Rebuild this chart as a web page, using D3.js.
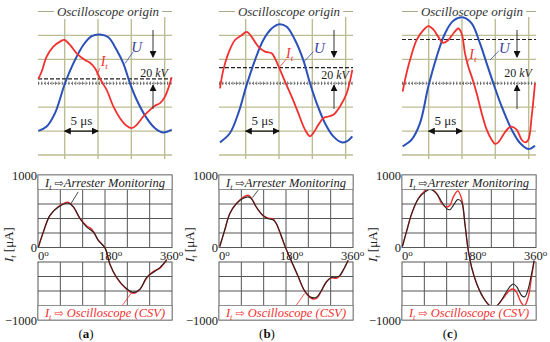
<!DOCTYPE html>
<html>
<head>
<meta charset="utf-8">
<script src="https://cdn.jsdelivr.net/npm/d3@7"></script>
<style>
body { margin: 0; background: #fff; }
svg { display: block; font-family: "Liberation Serif", "DejaVu Serif", serif; }
</style>
</head>
<body>
<svg id="chart" width="550" height="342"></svg>
<script>
'use strict';

const panelNames = ['a', 'b', 'c'];

// oscilloscope screenshots: [time µs, trace in divisions]
const scopeUA = [[1.05,-1.99],[2.3,-1.81],[3.55,-1.25],[5.05,0],[6.3,0.83],[7.8,1.6],[9.05,1.97],[10.3,2.04],[11.55,1.92],[12.8,1.39],[13.8,0.83],[14.8,0],[15.8,-0.69],[17.3,-1.46],[18.55,-1.88],[19.8,-2.06],[21.05,-1.94]];
const scopeIA = [[1.05,0.18],[1.55,0.49],[2.3,1.11],[3.3,1.53],[4.3,1.74],[4.95,1.81],[5.8,1.6],[6.8,1.25],[8.05,0.97],[8.8,0.86],[9.55,0.63],[10.05,0.35],[10.55,0.07],[11.3,-0.28],[12.3,-0.97],[13.3,-1.46],[14.3,-1.78],[15.05,-1.88],[15.8,-1.74],[16.8,-1.39],[17.8,-1.11],[18.55,-0.94],[19.3,-0.83],[20.05,-0.56],[21.05,0.25]];
const scopeUB = [[1.15,-2.47],[2.65,-2.08],[3.9,-1.25],[5.15,-0.07],[6.4,0.97],[7.65,1.81],[8.9,2.29],[10.05,2.47],[11.15,2.36],[12.4,1.81],[13.65,0.97],[14.65,0],[15.65,-0.83],[16.9,-1.67],[18.15,-2.22],[19.4,-2.47],[20.15,-2.43],[21.0,-2.22]];
const scopeIB = [[1.15,-0.21],[1.65,0.56],[2.4,1.25],[3.4,1.81],[4.4,2.01],[5.15,2.15],[5.9,1.94],[6.9,1.53],[7.9,1.32],[8.9,1.25],[9.4,1.04],[10.05,0.63],[10.9,0.07],[11.9,-0.56],[12.9,-1.25],[13.9,-1.94],[14.65,-2.22],[15.15,-2.08],[15.9,-1.74],[16.65,-1.46],[17.4,-1.39],[18.15,-1.32],[19.15,-0.97],[20.15,-0.42],[21.0,0.56]];
const scopeUC = [[1.1,-2.64],[2.45,-2.36],[3.7,-1.67],[4.95,-0.14],[6.2,1.11],[7.45,2.08],[8.7,2.61],[10.2,2.75],[11.45,2.5],[12.7,1.67],[13.7,0.83],[14.7,0],[15.95,-0.97],[17.45,-1.94],[18.7,-2.5],[19.95,-2.75],[20.95,-2.61]];
const scopeIC = [[1.1,-0.35],[1.45,0.14],[2.2,0.97],[3.2,1.81],[4.2,2.22],[4.95,2.39],[5.7,2.25],[6.45,1.94],[7.2,1.69],[7.95,1.81],[8.7,2.08],[9.45,2.29],[9.95,2.08],[10.45,1.25],[10.95,0.69],[11.45,0.28],[12.2,-0.42],[12.95,-1.25],[13.7,-1.94],[14.45,-2.36],[14.95,-2.53],[15.45,-2.47],[16.2,-2.15],[16.95,-1.88],[17.45,-1.81],[18.2,-1.94],[18.95,-2.36],[19.45,-2.47],[19.95,-2.36],[20.45,-1.39],[20.95,0]];
const dashLevels = [0.18, 0.65, 1.83];   // dashed reference line, divisions
const timeGrid = [5, 10, 15, 20];
const divGrid = [-3, -2, -1, 1, 2];

// leakage current over one period: [phase deg, µA]
const monitorA = [[1,5],[14,212],[32,443],[55,559],[81,614],[95,559],[113,397],[131,282],[149,212],[162,97],[180,-5],[193,-226],[211,-411],[234,-550],[256,-619],[274,-573],[292,-411],[310,-342],[328,-273],[346,-171]];
const csvA = [[1,5],[14,205],[32,440],[55,565],[81,625],[95,560],[113,400],[131,295],[140,270],[149,220],[162,100],[180,-5],[193,-230],[211,-415],[234,-555],[256,-630],[274,-575],[292,-420],[310,-330],[328,-285],[346,-165]];
const monitorB = [[2,14],[15,236],[29,467],[47,605],[64,675],[78,698],[87,675],[100,559],[118,444],[132,397],[145,383],[154,328],[167,166],[179,-5],[194,-180],[212,-388],[230,-596],[248,-688],[261,-688],[275,-596],[288,-480],[302,-411],[315,-411],[324,-388],[333,-319],[347,-180]];
const csvB = [[2,14],[15,230],[29,470],[47,610],[64,690],[78,720],[87,680],[100,560],[118,440],[132,405],[145,395],[154,330],[167,160],[179,-5],[194,-185],[212,-395],[230,-600],[248,-700],[261,-705],[275,-600],[288,-475],[302,-420],[315,-425],[324,-395],[333,-320],[347,-175]];
const monitorC = [[1,14],[13,236],[26,467],[44,675],[62,767],[75,799],[93,744],[107,628],[120,536],[129,522],[138,582],[150,661],[160,628],[169,328],[177,-5],[187,-273],[201,-504],[218,-688],[236,-804],[250,-818],[263,-758],[277,-642],[290,-541],[299,-504],[308,-541],[322,-665],[330,-679],[339,-573],[348,-365],[355,-180]];
const csvC = [[1,14],[13,236],[26,467],[44,675],[62,781],[75,813],[93,744],[107,605],[120,559],[129,582],[138,698],[150,781],[160,675],[169,328],[177,-5],[187,-273],[201,-504],[218,-688],[236,-804],[250,-827],[263,-758],[277,-665],[290,-587],[299,-573],[308,-619],[320,-758],[329,-804],[339,-688],[348,-411],[355,-180]];
const currentTicks = [1000, 0, -1000];
const phaseTicks = [0, 180, 360];
const phaseGrid = [60, 120, 180, 240, 300];
const upperGrid = [200, 400, 600];
const lowerGrid = [-400, -600];

const panelX = [38, 219, 402],
	W = 134,
	gridCol = '#bdbd93',
	blue = '#2a50b9',
	red = '#f2302f';

const scope = [
	{ u: scopeUA, i: scopeIA, uLab: [15.8, 1.53], uLead: [[15.3, 1.32], [14.05, 0.83]], iLab: [11.0, 0.9], iLead: [[10.3, 0.63], [9.8, 0.35]] },
	{ u: scopeUB, i: scopeIB, uLab: [16.05, 1.46], uLead: [[15.15, 1.32], [13.75, 0.9]], iLab: [11.65, 1.22], iLead: [[11.05, 1.0], [10.15, 0.69]] },
	{ u: scopeUC, i: scopeIC, uLab: [16.35, 1.49], uLead: [[15.55, 1.36], [14.2, 0.97]], iLab: [11.7, 1.18], iLead: [[11.05, 1.0], [10.7, 0.83]] }
];
const period = [
	{ mon: monitorA, csv: csvA, monLead: [[108, 767], [88, 600]], csvLead: [[225, -810], [252, -619]] },
	{ mon: monitorB, csv: csvB, monLead: [[105, 790], [90, 688]], csvLead: [[206, -810], [230, -633]] },
	{ mon: monitorC, csv: csvC, monLead: null, csvLead: null }
];

const svg = d3.select('#chart');
const defs = svg.append('defs');
defs.append('marker')
	.attr('id', 'head')
	.attr('viewBox', '0 0 8 8')
	.attr('refX', 7).attr('refY', 4)
	.attr('markerWidth', 7).attr('markerHeight', 7)
	.attr('markerUnits', 'userSpaceOnUse')
	.attr('orient', 'auto-start-reverse')
	.append('path').attr('d', 'M0,0L8,4L0,8z').attr('fill', '#111');

// I with subscript t
const addIt = (t, size) => {
	t.append('tspan').attr('font-style', 'italic').text('I');
	t.append('tspan').attr('font-style', 'italic').attr('font-size', size * 0.65).attr('dy', size * 0.22).text('t');
	return t;
};

panelNames.forEach((name, k) => {
	const x0 = panelX[k],
		s = scope[k],
		p = period[k],
		tx = d3.scaleLinear().domain([1, 21.1]).range([x0, x0 + W]),
		ty = d3.scaleLinear().domain([-3, 3]).range([155, 11.5]),
		g = svg.append('g').attr('class', 'panel-' + name);

	// --- oscilloscope screen ---
	g.selectAll('line.hgrid').data(divGrid).enter().append('line')
		.attr('class', 'hgrid')
		.attr('x1', x0).attr('x2', x0 + W)
		.attr('y1', d => ty(d)).attr('y2', d => ty(d))
		.attr('stroke', gridCol).attr('stroke-width', 1.4);
	g.selectAll('line.vgrid').data(timeGrid).enter().append('line')
		.attr('class', 'vgrid')
		.attr('x1', d => tx(d)).attr('x2', d => tx(d))
		.attr('y1', 17).attr('y2', 159)
		.attr('stroke', gridCol).attr('stroke-width', 1.4);
	g.append('line')
		.attr('x1', x0).attr('x2', x0 + W)
		.attr('y1', ty(3)).attr('y2', ty(3))
		.attr('stroke', '#a9a98a').attr('stroke-width', 1.2);
	const title = g.append('text')
		.attr('x', x0 + 70).attr('y', ty(3) + 4.5)
		.attr('text-anchor', 'middle')
		.attr('font-size', 13).attr('font-style', 'italic')
		.attr('fill', '#333')
		.text('Oscilloscope origin');
	const bb = title.node().getBBox();
	g.insert('rect', 'text')
		.attr('x', bb.x - 3).attr('y', bb.y).attr('width', bb.width + 6).attr('height', bb.height)
		.attr('fill', '#fff');

	// zero axis with ticks
	g.append('line')
		.attr('x1', x0).attr('x2', x0 + W).attr('y1', ty(0)).attr('y2', ty(0))
		.attr('stroke', '#444').attr('stroke-width', 1).attr('stroke-dasharray', '1.5,1.5');
	g.append('line')
		.attr('x1', x0).attr('x2', x0 + W).attr('y1', ty(0)).attr('y2', ty(0))
		.attr('stroke', '#666').attr('stroke-width', 3.5).attr('stroke-dasharray', '0.8,2.6');
	g.append('line')
		.attr('x1', x0).attr('x2', x0 + W).attr('y1', ty(dashLevels[k])).attr('y2', ty(dashLevels[k]))
		.attr('stroke', '#222').attr('stroke-width', 1.2).attr('stroke-dasharray', '4,2');

	const scopeLine = d3.line().x(d => tx(d[0])).y(d => ty(d[1])).curve(d3.curveCatmullRom.alpha(0.5));
	g.append('path').attr('d', scopeLine(s.u)).attr('fill', 'none').attr('stroke', blue).attr('stroke-width', 2);
	g.append('path').attr('d', scopeLine(s.i)).attr('fill', 'none').attr('stroke', red).attr('stroke-width', 1.8);

	// labels
	g.append('line')
		.attr('x1', tx(s.uLead[0][0])).attr('y1', ty(s.uLead[0][1]))
		.attr('x2', tx(s.uLead[1][0])).attr('y2', ty(s.uLead[1][1]))
		.attr('stroke', blue).attr('stroke-width', 0.8);
	g.append('text')
		.attr('x', tx(s.uLab[0])).attr('y', ty(s.uLab[1]) + 5)
		.attr('text-anchor', 'middle').attr('font-size', 15).attr('font-style', 'italic')
		.attr('fill', '#3d3da0').text('U');
	g.append('line')
		.attr('x1', tx(s.iLead[0][0])).attr('y1', ty(s.iLead[0][1]))
		.attr('x2', tx(s.iLead[1][0])).attr('y2', ty(s.iLead[1][1]))
		.attr('stroke', red).attr('stroke-width', 0.8);
	addIt(g.append('text')
		.attr('x', tx(s.iLab[0]) - 4).attr('y', ty(s.iLab[1]) + 4)
		.attr('font-size', 14).attr('fill', red), 14);

	// 20 kV arrows
	const ax = x0 + 115;
	g.append('line').attr('x1', ax).attr('x2', ax).attr('y1', 30).attr('y2', 57)
		.attr('stroke', '#333').attr('stroke-width', 1).attr('marker-end', 'url(#head)');
	g.append('line').attr('x1', ax).attr('x2', ax).attr('y1', 109).attr('y2', 85)
		.attr('stroke', '#333').attr('stroke-width', 1).attr('marker-end', 'url(#head)');
	const kv = g.append('text').attr('x', ax + 1).attr('y', [77, 79, 77][k])
		.attr('text-anchor', 'middle').attr('font-size', 12).attr('fill', '#222');
	kv.append('tspan').text('20 ');
	kv.append('tspan').attr('font-style', 'italic').text('kV');

	// 5 µs span
	g.append('line').attr('x1', tx(5)).attr('x2', tx(10)).attr('y1', ty(-2)).attr('y2', ty(-2))
		.attr('stroke', '#111').attr('stroke-width', 1.2)
		.attr('marker-start', 'url(#head)').attr('marker-end', 'url(#head)');
	g.append('text').attr('x', (tx(5) + tx(10)) / 2).attr('y', ty(-2) - 6)
		.attr('text-anchor', 'middle').attr('font-size', 13).attr('fill', '#222').text('5 μs');

	// --- one period of leakage current ---
	const bx = d3.scaleLinear().domain([0, 360]).range([x0, x0 + W]),
		by = d3.scaleLinear().domain([-1000, 1000]).range([320, 175]),
		frame = '#555';

	g.append('rect').attr('x', bx(0)).attr('y', by(1000)).attr('width', W).attr('height', by(0) - by(1000))
		.attr('fill', 'none').attr('stroke', frame).attr('stroke-width', 1);
	g.append('rect').attr('x', bx(0)).attr('y', by(-200)).attr('width', W).attr('height', by(-1000) - by(-200))
		.attr('fill', 'none').attr('stroke', frame).attr('stroke-width', 1);
	g.selectAll('line.bh').data(upperGrid.concat(lowerGrid)).enter().append('line')
		.attr('class', 'bh')
		.attr('x1', bx(0)).attr('x2', bx(360)).attr('y1', d => by(d)).attr('y2', d => by(d))
		.attr('stroke', frame).attr('stroke-width', 1);
	g.selectAll('line.bvu').data(phaseGrid).enter().append('line')
		.attr('class', 'bvu')
		.attr('x1', d => bx(d)).attr('x2', d => bx(d)).attr('y1', by(800)).attr('y2', by(0))
		.attr('stroke', frame).attr('stroke-width', 1);
	g.selectAll('line.bvl').data(phaseGrid).enter().append('line')
		.attr('class', 'bvl')
		.attr('x1', d => bx(d)).attr('x2', d => bx(d)).attr('y1', by(-200)).attr('y2', by(-800))
		.attr('stroke', frame).attr('stroke-width', 1);

	const yAxis = g.append('g')
		.attr('transform', `translate(${x0 - 1},0)`)
		.call(d3.axisLeft(by).tickValues(currentTicks).tickSize(0).tickPadding(0)
			.tickFormat(d => d < 0 ? '−' + Math.abs(d) : String(d)));
	yAxis.attr('font-family', null).attr('font-size', null);
	yAxis.select('.domain').remove();
	yAxis.selectAll('text').attr('font-size', 12.5).attr('fill', '#222');

	phaseTicks.forEach(d => {
		const t = g.append('text')
			.attr('x', bx(d) + (d === 0 ? 0 : d === 180 ? -6 : -12)).attr('y', by(0) + 12)
			.attr('font-size', 12.5).attr('fill', '#222');
		t.append('tspan').text(d);
		t.append('tspan').attr('font-size', 9).attr('dy', -4).text('o');
	});

	const ylab = g.append('text')
		.attr('transform', `translate(${x0 - 25},${by(40)}) rotate(-90)`)
		.attr('text-anchor', 'middle').attr('font-size', 13).attr('fill', '#222');
	addIt(ylab, 13);
	ylab.append('tspan').attr('dy', -13 * 0.22).text(' [μA]');

	const phaseLine = d3.line().x(d => bx(d[0])).y(d => by(d[1])).curve(d3.curveCatmullRom.alpha(0.5));
	g.append('path').attr('d', phaseLine(p.csv)).attr('fill', 'none').attr('stroke', red).attr('stroke-width', 1.4);
	g.append('path').attr('d', phaseLine(p.mon)).attr('fill', 'none').attr('stroke', '#222').attr('stroke-width', 1.1);

	if (p.monLead) {
		g.append('line')
			.attr('x1', bx(p.monLead[0][0])).attr('y1', by(p.monLead[0][1]))
			.attr('x2', bx(p.monLead[1][0])).attr('y2', by(p.monLead[1][1]))
			.attr('stroke', '#222').attr('stroke-width', 0.8);
		g.append('line')
			.attr('x1', bx(p.csvLead[0][0])).attr('y1', by(p.csvLead[0][1]))
			.attr('x2', bx(p.csvLead[1][0])).attr('y2', by(p.csvLead[1][1]))
			.attr('stroke', red).attr('stroke-width', 0.8);
	}

	// legend boxes
	[[1000, 800, '#222', ' ⇨Arrester Monitoring'], [-800, -1000, red, ' ⇨ Oscilloscope (CSV)']].forEach(b => {
		g.append('rect')
			.attr('x', bx(0)).attr('y', by(b[0])).attr('width', W).attr('height', by(b[1]) - by(b[0]))
			.attr('fill', '#fff').attr('stroke', '#777').attr('stroke-width', 0.8);
		const t = g.append('text')
			.attr('x', bx(180)).attr('y', (by(b[0]) + by(b[1])) / 2 + 4.5)
			.attr('text-anchor', 'middle').attr('font-size', 12.5).attr('fill', b[2]);
		addIt(t, 12.5);
		const rest = b[3].split('⇨');
		t.append('tspan').attr('dy', -12.5 * 0.22).text(rest[0]);
		t.append('tspan').attr('font-family', 'DejaVu Sans').attr('font-size', 11).text('⇨');
		t.append('tspan').attr('font-style', 'italic').text(rest[1]);
	});

	const lab = g.append('text')
		.attr('x', x0 + 48).attr('y', 338)
		.attr('text-anchor', 'middle').attr('font-size', 13).attr('fill', '#111');
	lab.append('tspan').text('(');
	lab.append('tspan').attr('font-weight', 'bold').text(name);
	lab.append('tspan').text(')');
});
</script>
</body>
</html>
